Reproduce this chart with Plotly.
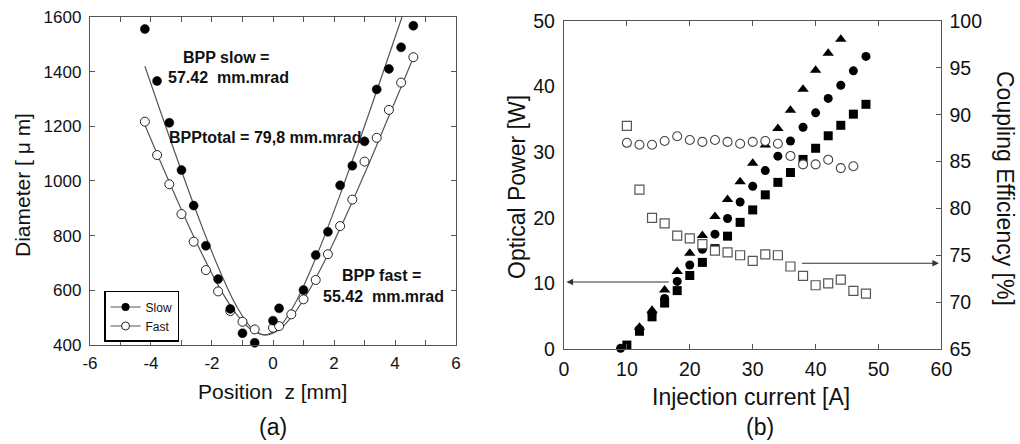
import plotly.graph_objects as go

# ---------------- Panel (a): beam caustic ----------------
z_pos = [-4.2, -3.8, -3.4, -3.0, -2.6, -2.2, -1.8, -1.4, -1.0, -0.6, 0.0, 0.2, 0.6,
         1.0, 1.4, 1.8, 2.2, 2.6, 3.0, 3.4, 3.8, 4.2, 4.6]
slow_diam = [1556, 1366, 1213, 1040, 910, 763, 641, 532, 443, 408, 489, 534, None,
             601, 729, 814, 984, 1056, 1145, 1335, 1410, 1489, 1568]
fast_diam = [1217, 1095, 988, 879, 778, 674, 596, 524, 485, 457, 463, 469, 512,
             567, 638, 732, 835, 932, 1071, 1158, 1260, 1360, 1453]

fit_z = [-4.2, -3.7, -3.2, -2.7, -2.2, -1.7, -1.2, -0.7, -0.26, 0.2, 0.7, 1.2, 1.7,
         2.2, 2.7, 3.2, 3.7, 4.2, 4.6]
slow_fit = [1420, 1258, 1099, 944, 796, 660, 543, 462, 437, 465, 547, 665, 802,
            950, 1105, 1265, 1427, 1591, 1720]
fast_fit = [1205, 1073, 945, 821, 705, 599, 513, 455, 437, 456, 516, 603, 709,
            826, 950, 1078, 1211, 1344, 1452]

xa_ticks = [-6, -5, -4, -3, -2, -1, 0, 1, 2, 3, 4, 5, 6]
xa_labels = ["-6", "", "-4", "", "-2", "", "0", "", "2", "", "4", "", "6"]

# ---------------- Panel (b): power / coupling efficiency ----------------
current_tri = [12, 14, 16, 18, 20, 22, 24, 26, 28, 30, 32, 34, 36, 38, 40, 42, 44]
power_tri = [3.3, 5.9, 9.0, 11.8, 14.6, 17.3, 20.2, 22.8, 25.5, 28.3, 31.1, 33.6,
             36.4, 39.6, 42.5, 45.1, 47.2]
current_circ = [9, 12, 14, 16, 18, 20, 22, 24, 26, 28, 30, 32, 34, 36, 38, 40, 42,
                44, 46, 48]
power_circ = [0.1, 3.0, 5.4, 7.7, 10.3, 12.8, 15.2, 17.5, 19.9, 22.4, 24.8, 27.2,
              29.4, 31.7, 33.8, 36.0, 38.2, 40.2, 42.4, 44.6]
current_sq = [10, 12, 14, 16, 18, 20, 22, 24, 26, 28, 30, 32, 34, 36, 38, 40, 42,
              44, 46, 48]
power_sq = [0.6, 2.7, 4.9, 7.0, 8.9, 11.2, 13.2, 15.3, 17.2, 19.3, 21.2, 23.5, 25.4,
            26.9, 28.9, 30.6, 32.5, 34.1, 35.8, 37.3]

eff_circ_current = [10, 12, 14, 16, 18, 20, 22, 24, 26, 28, 30, 32, 34, 36, 38, 40,
                    42, 44, 46]
eff_circ = [87.0, 86.8, 86.8, 87.2, 87.7, 87.3, 87.1, 87.3, 87.1, 86.9, 87.1, 87.2,
            86.9, 85.6, 84.7, 84.7, 85.2, 84.3, 84.5]
eff_sq_current = [10, 12, 14, 16, 18, 20, 22, 24, 26, 28, 30, 32, 34, 36, 38, 40,
                  42, 44, 46, 48]
eff_sq = [88.8, 82.0, 79.0, 78.4, 77.1, 76.8, 76.2, 75.5, 75.3, 75.0, 74.4, 75.1,
          75.0, 73.8, 72.8, 71.8, 72.0, 72.4, 71.2, 70.9]

FONT = "Liberation Sans, Arial, sans-serif"
AX = "#555555"
INK = "#111111"

fig = go.Figure()

# fit curves (a)
for yv in (slow_fit, fast_fit):
    fig.add_trace(go.Scatter(x=fit_z, y=yv, mode="lines", xaxis="x", yaxis="y",
                             line=dict(color="#555555", width=1.2, shape="spline"),
                             showlegend=False, hoverinfo="skip"))
fig.add_trace(go.Scatter(x=z_pos, y=fast_diam, mode="markers", xaxis="x", yaxis="y",
                         marker=dict(symbol="circle", size=9, color="white",
                                     line=dict(color="#222222", width=1)),
                         showlegend=False, cliponaxis=False))
fig.add_trace(go.Scatter(x=z_pos, y=slow_diam, mode="markers", xaxis="x", yaxis="y",
                         marker=dict(symbol="circle", size=9, color="black",
                                     line=dict(color="black", width=0.5)),
                         showlegend=False, cliponaxis=False))
# legend entries
fig.add_trace(go.Scatter(x=[None], y=[None], mode="lines+markers", name="Slow",
                         xaxis="x", yaxis="y",
                         line=dict(color="#555555", width=1.2),
                         marker=dict(symbol="circle", size=8, color="black")))
fig.add_trace(go.Scatter(x=[None], y=[None], mode="lines+markers", name="Fast",
                         xaxis="x", yaxis="y",
                         line=dict(color="#555555", width=1.2),
                         marker=dict(symbol="circle", size=8, color="white",
                                     line=dict(color="#222222", width=1))))

# panel (b)
fig.add_trace(go.Scatter(x=eff_sq_current, y=eff_sq, mode="markers", xaxis="x2", yaxis="y3",
                         marker=dict(symbol="square", size=9, color="white",
                                     line=dict(color="#555555", width=1.2)),
                         showlegend=False, cliponaxis=False))
fig.add_trace(go.Scatter(x=eff_circ_current, y=eff_circ, mode="markers", xaxis="x2", yaxis="y3",
                         marker=dict(symbol="circle", size=9, color="white",
                                     line=dict(color="#444444", width=1.1)),
                         showlegend=False, cliponaxis=False))
fig.add_trace(go.Scatter(x=current_sq, y=power_sq, mode="markers", xaxis="x2", yaxis="y2",
                         marker=dict(symbol="square", size=9, color="black"),
                         showlegend=False, cliponaxis=False))
fig.add_trace(go.Scatter(x=current_circ, y=power_circ, mode="markers", xaxis="x2", yaxis="y2",
                         marker=dict(symbol="circle", size=9, color="black"),
                         showlegend=False, cliponaxis=False))
fig.add_trace(go.Scatter(x=current_tri, y=power_tri, mode="markers", xaxis="x2", yaxis="y2",
                         marker=dict(symbol="triangle-up", size=10, color="black"),
                         showlegend=False, cliponaxis=False))

common = dict(showline=True, linecolor=AX, linewidth=1.3, showgrid=False, zeroline=False,
              ticks="inside", ticklen=5, tickcolor=AX, tickwidth=1.2, automargin=False)

fig.update_layout(
    width=1020, height=444, margin=dict(l=0, r=0, t=0, b=0, autoexpand=False),
    paper_bgcolor="white", plot_bgcolor="white",
    font=dict(family=FONT, color=INK),
    xaxis=dict(domain=[0.0882, 0.4471], range=[-6, 6], tickvals=xa_ticks, ticktext=xa_labels,
               mirror="ticks", anchor="y", tickfont=dict(size=17, color=INK),
               ticklabelstandoff=2, **common),
    yaxis=dict(domain=[0.223, 0.9617], range=[400, 1600], dtick=200, mirror="ticks",
               anchor="x", tickfont=dict(size=17, color=INK), ticklabelstandoff=4, **common),
    xaxis2=dict(domain=[0.5529, 0.9230], range=[0, 60], dtick=10, mirror="ticks",
                anchor="y2", tickfont=dict(size=19.5, color=INK), ticklabelstandoff=2, **common),
    yaxis2=dict(domain=[0.214, 0.9527], range=[0, 50], dtick=10, anchor="x2",
                showline=True, linecolor=AX, linewidth=1.3, showgrid=False, zeroline=False,
                ticks="", tickfont=dict(size=19.5, color=INK), ticklabelstandoff=4,
                automargin=False),
    yaxis3=dict(range=[65, 100], dtick=5, overlaying="y2", side="right", anchor="x2",
                tickfont=dict(size=19.5, color=INK), ticklabelstandoff=3, **common),
    legend=dict(x=0.102, y=0.3446, xanchor="left", yanchor="top", bgcolor="white",
                bordercolor="black", borderwidth=1.5, font=dict(size=12, color=INK),
                itemwidth=30, tracegroupgap=0),
)

ann = []
def txt(x, y, s, size, angle=0, bold=False):
    ann.append(dict(x=x, y=y, xref="paper", yref="paper", text=("<b>%s</b>" % s) if bold else s,
                    showarrow=False, textangle=angle, xanchor="center", yanchor="middle",
                    font=dict(size=size, family=FONT, color=INK)))

# axis titles
txt(22 / 1020, 1 - 185 / 444, "Diameter [ \u03bc m]", 21, -90)
txt(272 / 1020, 1 - 391 / 444, "Position  z [mm]", 21)
txt(517 / 1020, 1 - 187 / 444, "Optical Power [W]", 23, -90)
txt(1005 / 1020, 1 - 188 / 444, "Coupling Efficiency [%]", 23, 90)
txt(751 / 1020, 1 - 397 / 444, "Injection current [A]", 23)
txt(273 / 1020, 1 - 427 / 444, "(a)", 23)
txt(760 / 1020, 1 - 427 / 444, "(b)", 23)
# BPP annotations
txt(226 / 1020, 1 - 57 / 444, "BPP slow =", 16, bold=True)
txt(228 / 1020, 1 - 78 / 444, "57.42  mm.mrad", 16, bold=True)
txt(265 / 1020, 1 - 138 / 444, "BPPtotal = 79,8 mm.mrad", 16, bold=True)
txt(381 / 1020, 1 - 275 / 444, "BPP fast =", 16, bold=True)
txt(383 / 1020, 1 - 296 / 444, "55.42  mm.mrad", 16, bold=True)

# arrows in panel (b)
ann.append(dict(x=0.4, y=10.2, ax=16.9, ay=10.2, xref="x2", yref="y2", axref="x2", ayref="y2",
                showarrow=True, arrowhead=2, arrowsize=1.2, arrowwidth=1.1, arrowcolor="#333333",
                text=""))
ann.append(dict(x=59.6, y=74.15, ax=37.6, ay=74.15, xref="x2", yref="y3", axref="x2", ayref="y3",
                showarrow=True, arrowhead=2, arrowsize=1.2, arrowwidth=1.1, arrowcolor="#333333",
                text=""))
fig.update_layout(annotations=ann)

fig.write_html("out.html", config={"displayModeBar": False},
               post_script="document.body.style.margin='0';document.body.style.padding='0';"
                           "document.documentElement.style.overflow='hidden';")
